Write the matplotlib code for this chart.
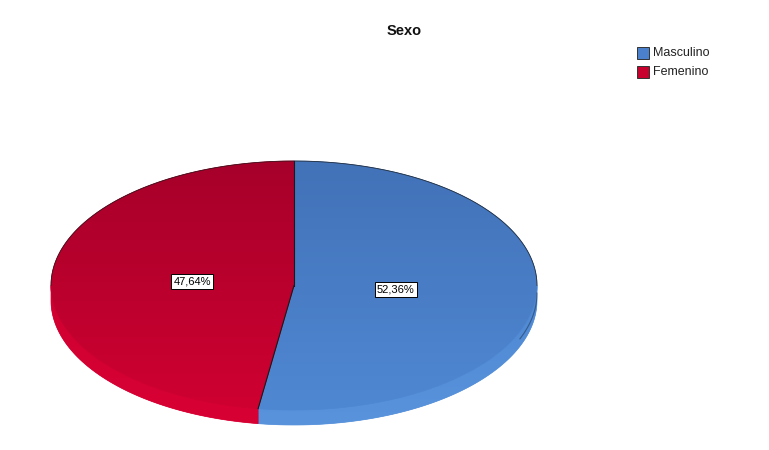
import numpy as np
import matplotlib.pyplot as plt
from matplotlib.patches import Polygon, Rectangle
from matplotlib.colors import LinearSegmentedColormap

categories = ['Masculino', 'Femenino']
values = [52.36, 47.64]
labels = ['52,36%', '47,64%']
title = 'Sexo'

top_colors = [('#4272b8', '#4f88d2'), ('#a6002a', '#cf0031')]
side_colors = [('#4f88d2', '#5893dc'), ('#cf0031', '#d80034')]

fig = plt.figure(figsize=(7.69, 4.50), dpi=100)
ax = fig.add_axes([0, 0, 1, 1])
ax.set_xlim(0, 769)
ax.set_ylim(450, 0)
ax.axis('off')

cx, cy, rx, ry, depth = 294, 285.5, 243, 124.5, 15


def pt(t):
    return cx + rx * np.sin(t), cy - ry * np.cos(t)


def grad_fill(poly_xy, c0, c1, y0, y1):
    patch = Polygon(poly_xy, closed=True, facecolor=c1, edgecolor=c1, linewidth=0.5)
    ax.add_patch(patch)
    cmap = LinearSegmentedColormap.from_list('g', [c0, c1])
    g = np.linspace(0, 1, 256).reshape(-1, 1)
    im = ax.imshow(g, cmap=cmap, extent=(cx - rx - 5, cx + rx + 5, y1, y0),
                   origin='upper', aspect='auto', interpolation='bilinear', zorder=patch.get_zorder())
    im.set_clip_path(patch)


total = sum(values)
fracs = [v / total for v in values]
starts = np.cumsum([0] + fracs[:-1]) * 2 * np.pi
ends = np.cumsum(fracs) * 2 * np.pi

# side walls (front half: pi/2 .. 3pi/2)
for i in range(len(values)):
    a = max(starts[i], np.pi / 2)
    b = min(ends[i], 3 * np.pi / 2)
    if b > a:
        t = np.linspace(a, b, 200)
        x, y = pt(t)
        xy = np.column_stack([np.concatenate([x, x[::-1]]),
                              np.concatenate([y, (y + depth)[::-1]])])
        grad_fill(xy, side_colors[i][0], side_colors[i][1], cy, cy + ry + depth)

# top faces
for i in range(len(values)):
    t = np.linspace(starts[i], ends[i], 400)
    x, y = pt(t)
    xy = np.column_stack([np.concatenate([[cx], x]), np.concatenate([[cy], y])])
    grad_fill(xy, top_colors[i][0], top_colors[i][1], cy - ry, cy + ry)

# outlines: radial boundaries and back rim
for s in starts:
    x, y = pt(s)
    ax.plot([cx, x], [cy, y], color='#1a1a1a', linewidth=0.8, zorder=5)
tb = np.linspace(-np.pi / 2, np.pi / 2, 300)
x, y = pt(tb)
ax.plot(x, y, color='#1a1a1a', linewidth=0.6, alpha=0.8, zorder=5)
# right edge shading
tr = np.linspace(np.pi / 2, np.pi * 0.62, 100)
x, y = pt(tr)
ax.plot(x, y + depth * 0.5, color='#1a2a40', linewidth=0.8, alpha=0.5, zorder=5)

# labels
for i in range(len(values)):
    mid = (starts[i] + ends[i]) / 2
    lx = cx + 0.42 * rx * np.sin(mid)
    ly = cy - 0.42 * ry * np.cos(mid)
    ax.text(lx, ly, labels[i], ha='center', va='center', fontsize=8,
            family='Liberation Sans', color='black', zorder=10,
            bbox=dict(boxstyle='square,pad=0.2', facecolor='white', edgecolor='black', linewidth=0.7))

ax.text(404, 31, title, ha='center', va='center', fontsize=10.5, fontweight='bold',
        family='Liberation Sans', color='#111111')

# legend
leg_colors = ['#4a80cc', '#c8002e']
for i, cat in enumerate(categories):
    y = 54 + i * 19 - 1
    ax.add_patch(Rectangle((637, y - 6), 12, 12, facecolor=leg_colors[i],
                           edgecolor='#333333', linewidth=0.7, zorder=10))
    ax.text(653, y, cat, ha='left', va='center', fontsize=9,
            family='Liberation Sans', color='#222222')

fig.savefig('out.png', dpi=100)
